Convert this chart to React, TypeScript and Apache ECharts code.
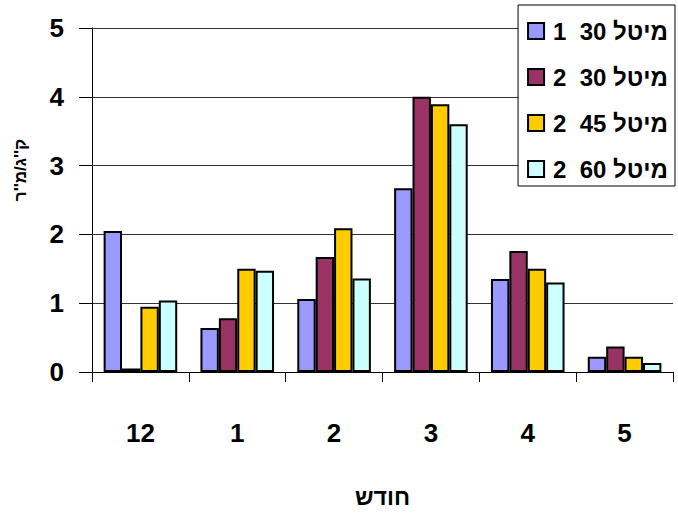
import React, { useEffect, useRef } from "react";
import * as echarts from "echarts";

const months = ["12", "1", "2", "3", "4", "5"];
const seriesNames = ["1  30 מיטל", "2  30 מיטל", "2  45 מיטל", "2  60 מיטל"];
const seriesColors = ["#9999FF", "#993366", "#FFCC00", "#CCFFFF"];
const s1 = [2.05, 0.64, 1.06, 2.67, 1.35, 0.22];
const s2 = [0.05, 0.78, 1.67, 4.0, 1.76, 0.37];
const s3 = [0.95, 1.5, 2.09, 3.89, 1.5, 0.22];
const s4 = [1.04, 1.47, 1.36, 3.6, 1.3, 0.13];
const yTicks = [0, 1, 2, 3, 4, 5];
const yTitle = "ק''ג/מ''ר";
const xTitle = "חודש";

const FONT = "'Liberation Sans', Arial, sans-serif";

export default function App() {
  const ref = useRef<HTMLDivElement>(null);
  useEffect(() => {
    if (!ref.current) return;
    const chart = echarts.init(ref.current, null, { renderer: "svg" });
    const data = [s1, s2, s3, s4];
    chart.setOption({
      animation: false,
      backgroundColor: "#ffffff",
      textStyle: { fontFamily: FONT },
      grid: {
        left: 92,
        right: 5,
        top: 28,
        bottom: 141,
        containLabel: false,
        outerBoundsMode: "none",
      },
      legend: {
        orient: "vertical",
        right: 3,
        top: 5,
        data: seriesNames,
        icon: "rect",
        itemWidth: 16,
        itemHeight: 16,
        itemGap: 18,
        backgroundColor: "#ffffff",
        borderColor: "#000000",
        borderWidth: 1,
        padding: [12, 7, 3, 9],
        textStyle: {
          fontFamily: FONT,
          fontWeight: "bold",
          fontSize: 24,
          lineHeight: 28,
          color: "#000",
          padding: [0, 0, 0, 4],
        },
      },
      xAxis: {
        type: "category",
        data: months,
        name: xTitle,
        nameLocation: "middle",
        nameGap: 113,
        nameTextStyle: { fontFamily: FONT, fontWeight: "bold", fontSize: 23, color: "#000" },
        axisLine: { lineStyle: { color: "#000", width: 1 } },
        axisTick: { show: true, length: 10, lineStyle: { color: "#000" } },
        axisLabel: {
          margin: 48,
          fontFamily: FONT,
          fontWeight: "bold",
          fontSize: 26,
          color: "#000",
        },
      },
      yAxis: {
        type: "value",
        min: yTicks[0],
        max: yTicks[yTicks.length - 1],
        interval: 1,
        axisLine: { show: true, lineStyle: { color: "#000", width: 1 } },
        axisTick: { show: true, length: 13, lineStyle: { color: "#000" } },
        splitLine: { show: true, lineStyle: { color: "#333", width: 1 } },
        axisLabel: {
          margin: 28,
          fontFamily: FONT,
          fontWeight: "bold",
          fontSize: 26,
          color: "#000",
        },
      },
      graphic: [
        {
          type: "text",
          x: 20,
          y: 170,
          rotation: Math.PI / 2,
          style: {
            text: yTitle,
            fontFamily: FONT,
            fontWeight: "bold",
            fontSize: 17,
            fill: "#000",
            align: "center",
            verticalAlign: "middle",
          },
        },
      ],
      series: seriesNames.map((name, i) => ({
        name,
        type: "bar",
        data: data[i],
        barGap: "0%",
        barCategoryGap: "24%",
        itemStyle: { color: seriesColors[i], borderColor: "#000", borderWidth: 2 },
      })),
    });
    return () => chart.dispose();
  }, []);
  return <div ref={ref} style={{ width: 678, height: 513, position: "absolute", left: 0, top: 0 }} />;
}
